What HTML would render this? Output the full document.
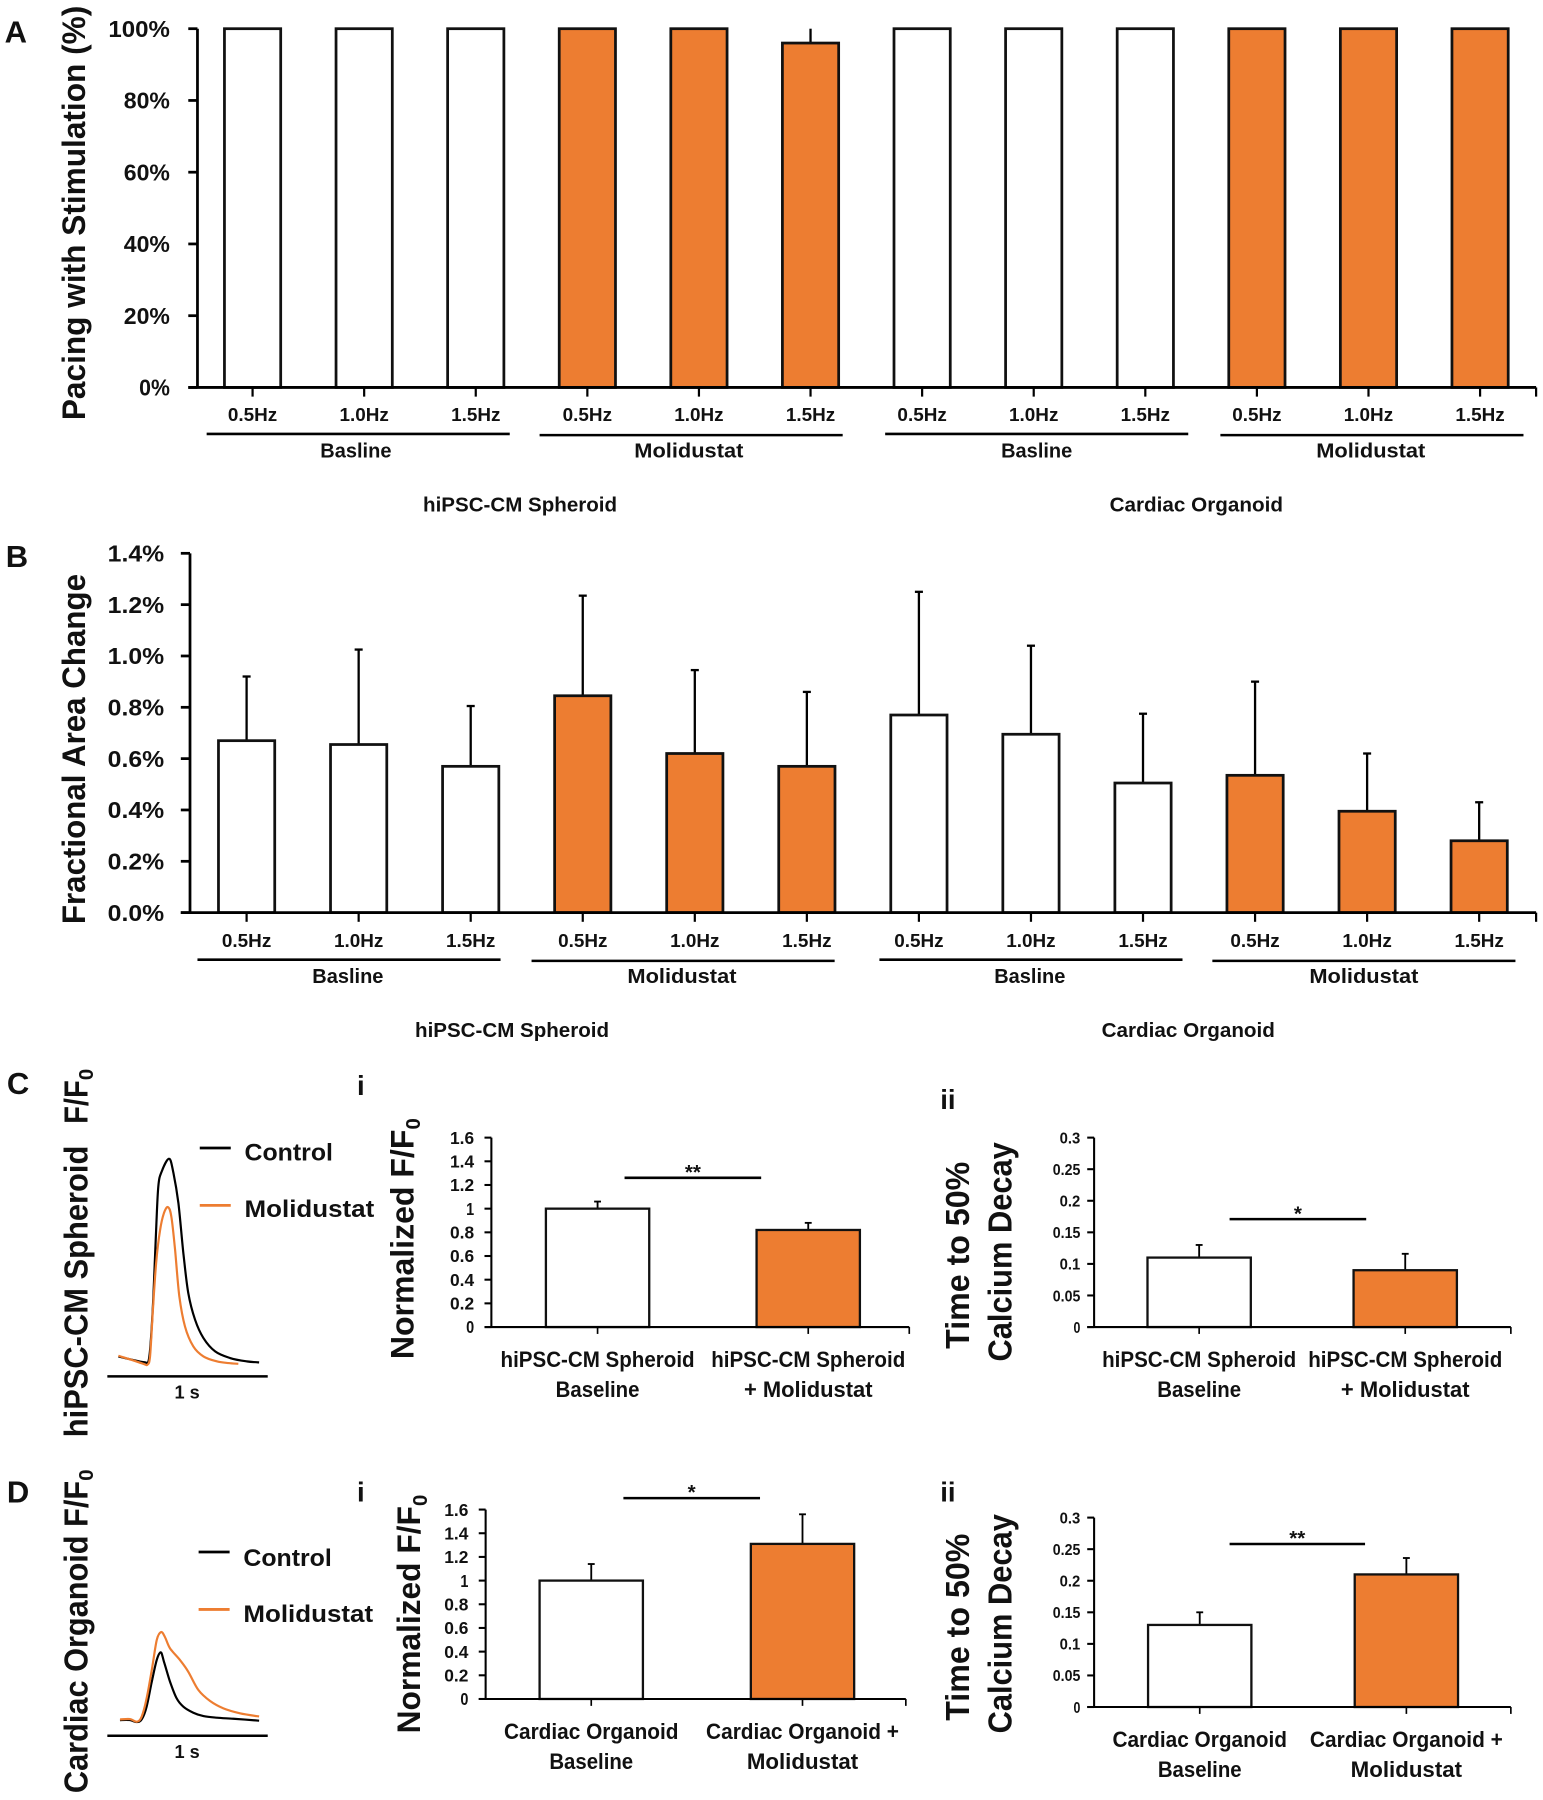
<!DOCTYPE html>
<html lang="en">
<head>
<meta charset="utf-8">
<title>Pacing, fractional area change and calcium handling</title>
<style>
html,body{margin:0;padding:0;background:#fff}
svg{display:block}
text{font-family:"Liberation Sans",sans-serif;font-weight:bold;fill:#111}
</style>
</head>
<body>
<svg id="fig" xmlns="http://www.w3.org/2000/svg" width="1543" height="1800" viewBox="0 0 1344 1568" preserveAspectRatio="none">
  <rect width="1344" height="1568" fill="#fff"/>
  <text x="4" y="37" font-size="27">A</text>
  <text x="5" y="494" font-size="27">B</text>
  <text x="6" y="953" font-size="27">C</text>
  <text x="6" y="1309" font-size="27">D</text>
  <text x="311" y="954" font-size="24">i</text>
  <text x="819" y="966" font-size="24">ii</text>
  <text x="311" y="1308" font-size="24">i</text>
  <text x="819" y="1308" font-size="24">ii</text>

  <text transform="translate(74,366) rotate(-90)" font-size="28" textLength="361" lengthAdjust="spacingAndGlyphs">Pacing with Stimulation (%)</text>
  <text transform="translate(74,805) rotate(-90)" font-size="28" textLength="305" lengthAdjust="spacingAndGlyphs">Fractional Area Change</text>
  <text transform="translate(76,1252) rotate(-90)" font-size="29" textLength="254" lengthAdjust="spacingAndGlyphs">hiPSC-CM Spheroid</text>
  <text transform="translate(76,979) rotate(-90)" font-size="29" textLength="38" lengthAdjust="spacingAndGlyphs">F/F</text>
  <text transform="translate(81,941) rotate(-90)" font-size="18">0</text>
  <text transform="translate(76,1562) rotate(-90)" font-size="29" textLength="272" lengthAdjust="spacingAndGlyphs">Cardiac Organoid F/F</text>
  <text transform="translate(81,1290) rotate(-90)" font-size="18">0</text>
  <text transform="translate(360,1184) rotate(-90)" font-size="28" textLength="200" lengthAdjust="spacingAndGlyphs">Normalized F/F</text>
  <text transform="translate(366,984) rotate(-90)" font-size="18">0</text>
  <text transform="translate(366,1510) rotate(-90)" font-size="28" textLength="198" lengthAdjust="spacingAndGlyphs">Normalized F/F</text>
  <text transform="translate(372,1312) rotate(-90)" font-size="18">0</text>
  <text transform="translate(844,1175) rotate(-90)" font-size="29" textLength="163" lengthAdjust="spacingAndGlyphs">Time to 50%</text>
  <text transform="translate(881,1186) rotate(-90)" font-size="29" textLength="191" lengthAdjust="spacingAndGlyphs">Calcium Decay</text>
  <text transform="translate(844,1499) rotate(-90)" font-size="29" textLength="163" lengthAdjust="spacingAndGlyphs">Time to 50%</text>
  <text transform="translate(881,1510) rotate(-90)" font-size="29" textLength="191" lengthAdjust="spacingAndGlyphs">Calcium Decay</text>

  <g>
    <line x1="174" x2="201" y1="1000" y2="1000" stroke="#000" stroke-width="2.4"/>
    <text x="213" y="1011" font-size="21" textLength="77" lengthAdjust="spacingAndGlyphs">Control</text>
    <line x1="174" x2="201" y1="1050" y2="1050" stroke="#ed7d31" stroke-width="2.4"/>
    <text x="213" y="1060" font-size="21" textLength="113" lengthAdjust="spacingAndGlyphs">Molidustat</text>
  </g>
  <g>
    <line x1="173" x2="200" y1="1352" y2="1352" stroke="#000" stroke-width="2.4"/>
    <text x="212" y="1364" font-size="21" textLength="77" lengthAdjust="spacingAndGlyphs">Control</text>
    <line x1="173" x2="200" y1="1402" y2="1402" stroke="#ed7d31" stroke-width="2.4"/>
    <text x="212" y="1413" font-size="21" textLength="113" lengthAdjust="spacingAndGlyphs">Molidustat</text>
  </g>
  <g id="plots"></g>
</svg>
<script>
// ---- Panel A / B data ----
const freqCategories = ['0.5Hz','1.0Hz','1.5Hz','0.5Hz','1.0Hz','1.5Hz','0.5Hz','1.0Hz','1.5Hz','0.5Hz','1.0Hz','1.5Hz'];
const freqTreatment = ['base','base','base','drug','drug','drug','base','base','base','drug','drug','drug'];
const pacingValues = [100,100,100,100,100,96,100,100,100,100,100,100];
const pacingErrors = [0,0,0,0,0,4,0,0,0,0,0,0];
const pacingTicks = [0,20,40,60,80,100];
const pacingTickLabels = ['0%','20%','40%','60%','80%','100%'];
const areaValues = [0.67,0.655,0.57,0.845,0.62,0.57,0.77,0.695,0.505,0.535,0.395,0.28];
const areaErrors = [0.25,0.37,0.235,0.39,0.325,0.29,0.48,0.345,0.27,0.365,0.225,0.15];
const areaTicks = [0,0.2,0.4,0.6,0.8,1.0,1.2,1.4];
const areaTickLabels = ['0.0%','0.2%','0.4%','0.6%','0.8%','1.0%','1.2%','1.4%'];
const groupLabels = ['Basline','Molidustat','Basline','Molidustat'];
const modelLabels = ['hiPSC-CM Spheroid','Cardiac Organoid'];

// ---- Panel C / D bar data ----
const normTicks = [0,0.2,0.4,0.6,0.8,1,1.2,1.4,1.6];
const normTickLabels = ['0','0.2','0.4','0.6','0.8','1','1.2','1.4','1.6'];
const decayTicks = [0,0.05,0.1,0.15,0.2,0.25,0.3];
const decayTickLabels = ['0','0.05','0.1','0.15','0.2','0.25','0.3'];
const pairTreatment = ['base','drug'];
const spheroidNormValues = [1,0.82];
const spheroidNormErrors = [0.06,0.06];
const spheroidDecayValues = [0.11,0.09];
const spheroidDecayErrors = [0.02,0.026];
const organoidNormValues = [1,1.31];
const organoidNormErrors = [0.14,0.25];
const organoidDecayValues = [0.13,0.21];
const organoidDecayErrors = [0.02,0.026];

// ---- Calcium traces: time in s, signal in arbitrary F/F0 units ----
const spheroidControlT = [.069,.162,.235,.256,.270,.287,.304,.318,.339,.385,.412,.443,.474,.505,.547,.599,.672,.765,.869,.946];
const spheroidControlV = [.174,.142,.122,.131,.29,.697,1.278,1.655,1.786,1.896,1.771,1.51,1.074,.726,.494,.334,.218,.16,.131,.122];
const spheroidDrugT = [.069,.162,.225,.25,.266,.283,.304,.329,.353,.378,.399,.422,.449,.484,.536,.599,.682,.755,.817];
const spheroidDrugV = [.18,.139,.11,.102,.174,.552,.987,1.278,1.423,1.475,1.394,1.103,.697,.436,.261,.174,.131,.116,.11];
const organoidControlT = [.079,.141,.183,.214,.245,.277,.308,.333,.353,.391,.432,.474,.536,.599,.682,.786,.946];
const organoidControlV = [.136,.136,.119,.142,.253,.47,.659,.726,.645,.47,.325,.253,.2,.171,.157,.148,.131];
const organoidDrugT = [.079,.141,.183,.214,.245,.277,.308,.335,.36,.391,.453,.505,.568,.641,.724,.827,.946];
const organoidDrugV = [.142,.145,.122,.166,.325,.572,.833,.903,.857,.761,.659,.557,.398,.302,.238,.195,.168];

const NS = 'http://www.w3.org/2000/svg';
const ORANGE = '#ed7d31';
const root = document.getElementById('plots');

function make(tag, attrs, parent) {
  const el = document.createElementNS(NS, tag);
  for (const k in attrs) el.setAttribute(k, attrs[k]);
  (parent || root).appendChild(el);
  return el;
}
function label(parent, x, y, str, size, width, anchor) {
  const t = make('text', {x: x, y: y + size * 0.36, 'font-size': size, 'text-anchor': anchor || 'middle'}, parent);
  if (width) {
    t.setAttribute('textLength', width);
    t.setAttribute('lengthAdjust', 'spacingAndGlyphs');
  }
  t.textContent = str;
  return t;
}
function newGroup(name) {
  const g = make('g', {});
  
  
  return g;
}

function drawChart(o) {
  const g = newGroup(o.name);
  const y = v => o.bottom - (v / o.ymax) * (o.bottom - o.top);
  const x = i => o.x0 + i * o.step;
  // bars and error bars
  o.values.forEach((v, i) => {
    const err = o.errors[i];
    if (err > 0) {
      const stem = make('line', {x1: x(i), x2: x(i), y1: y(v), y2: y(v + err), stroke: '#000', 'stroke-width': o.errWidth}, g);
      
      
      if (o.cap) {
        const cap = make('line', {x1: x(i) - o.cap, x2: x(i) + o.cap, y1: y(v + err), y2: y(v + err), stroke: '#000', 'stroke-width': o.errWidth}, g);
        
        
      }
    }
    const bar = make('rect', {x: x(i) - o.barW / 2, y: y(v), width: o.barW, height: o.bottom - y(v),
      fill: o.treatment[i] === 'drug' ? ORANGE : '#fff', stroke: '#111', 'stroke-width': o.barStroke}, g);
    
    
  });
  // axes
  const yAxis = make('line', {x1: o.axisX, x2: o.axisX, y1: o.top, y2: o.bottom, stroke: '#000', 'stroke-width': o.axisWidth}, g);
  
  
  const xAxis = make('line', {x1: o.axisX - o.tickLen, x2: o.axisEnd, y1: o.bottom, y2: o.bottom, stroke: '#000', 'stroke-width': o.axisWidth}, g);
  
  
  o.ticks.forEach((t, i) => {
    const tick = make('line', {x1: o.axisX - o.tickLen, x2: o.axisX, y1: y(t), y2: y(t), stroke: '#000', 'stroke-width': o.axisWidth}, g);
    
    
    const str = o.tickLabels[i];
    const lab = label(g, o.labelX, y(t), str, o.tickSize, o.tickCharW ? str.length * o.tickCharW : 0, 'end');
    
    
  });
  o.values.forEach((v, i) => {
    const tick = make('line', {x1: x(i), x2: x(i), y1: o.bottom, y2: o.bottom + o.tickLen, stroke: '#000', 'stroke-width': o.axisWidth * 0.8}, g);
    
    
  });
  const endTick = make('line', {x1: o.axisEnd, x2: o.axisEnd, y1: o.bottom, y2: o.bottom + o.tickLen, stroke: '#000', 'stroke-width': o.axisWidth * 0.8}, g);
  
  
  return {g: g, x: x, y: y};
}

function drawGrouped(o) {
  const c = drawChart(o);
  freqCategories.forEach((s, i) => {
    const lab = label(c.g, c.x(i) + o.catDx, o.catY, s, 16, 43);
    
    
  });
  groupLabels.forEach((s, i) => {
    const line = make('line', {x1: o.groupStart[i], x2: o.groupStart[i] + 264, y1: o.groupLineY + (i % 2), y2: o.groupLineY + (i % 2), stroke: '#000', 'stroke-width': 2.2}, c.g);
    
    
    const lab = label(c.g, o.groupLabelX[i], o.groupLabelY, s, 18, s === 'Basline' ? 62 : 95);
    
    
  });
  modelLabels.forEach((s, i) => {
    const lab = label(c.g, o.modelX[i], o.modelY, s, 18, i === 0 ? 169 : 151);
    
    
  });
}

drawGrouped({name:'chart-pacing', values:pacingValues, errors:pacingErrors, treatment:freqTreatment,
  ticks:pacingTicks, tickLabels:pacingTickLabels, ymax:100, top:25, bottom:337.5, axisX:172, axisEnd:1338,
  x0:220, step:97.2, barW:49, barStroke:2.4, errWidth:2, cap:0, axisWidth:2.4, tickLen:8, labelX:148, tickSize:20, tickCharW:13.4,
  catDx:0, catY:361, groupStart:[180,470,771,1063], groupLineY:378, groupLabelX:[310,600,903,1194], groupLabelY:392,
  modelX:[453,1042], modelY:439});

drawGrouped({name:'chart-area', values:areaValues, errors:areaErrors, treatment:freqTreatment,
  ticks:areaTicks, tickLabels:areaTickLabels, ymax:1.4, top:482, bottom:795, axisX:165.5, axisEnd:1338,
  x0:214.8, step:97.6, barW:49, barStroke:2.4, errWidth:2, cap:3.5, axisWidth:2.4, tickLen:8, labelX:143, tickSize:20, tickCharW:12.3,
  catDx:0, catY:819, groupStart:[172,463,766,1056], groupLineY:836, groupLabelX:[303,594,897,1188], groupLabelY:850,
  modelX:[446,1035], modelY:897});

function drawPair(o) {
  const c = drawChart(Object.assign({treatment:pairTreatment, barW:90, barStroke:2, errWidth:1.6, cap:3, axisWidth:1.8, tickLen:6}, o));
  const sig = make('line', {x1:o.sig[0], x2:o.sig[1], y1:o.sig[2], y2:o.sig[2], stroke:'#000', 'stroke-width':2.2}, c.g);
  
  
  const star = make('text', {x:(o.sig[0] + o.sig[1]) / 2, y:o.sig[2] + 1, 'font-size':18, 'text-anchor':'middle'}, c.g);
  star.textContent = o.stars;
  
  
  o.catLines.forEach((lines, i) => {
    lines.forEach((item, j) => {
      const lab = label(c.g, c.x(i), o.catY + j * 26, item[0], 19, item[1]);
      
      
    });
  });
}

const spheroidCats = [[['hiPSC-CM Spheroid',169],['Baseline',73]],[['hiPSC-CM Spheroid',169],['+ Molidustat',112]]];
const organoidCats = [[['Cardiac Organoid',152],['Baseline',73]],[['Cardiac Organoid +',168],['Molidustat',97]]];

drawPair({name:'chart-spheroid-normalized', values:spheroidNormValues, errors:spheroidNormErrors, ticks:normTicks, tickLabels:normTickLabels,
  ymax:1.6, top:991, bottom:1156, axisX:428, axisEnd:792, x0:520.5, step:183.5, labelX:413, tickSize:15, tickCharW:7,
  sig:[544,663,1026], stars:'**', catLines:spheroidCats, catY:1184});
drawPair({name:'chart-spheroid-decay', values:spheroidDecayValues, errors:spheroidDecayErrors, ticks:decayTicks, tickLabels:decayTickLabels,
  ymax:0.3, top:991, bottom:1156, axisX:953, axisEnd:1316, x0:1044.5, step:179.5, labelX:941, tickSize:14, tickCharW:6,
  sig:[1071,1190,1062], stars:'*', catLines:spheroidCats, catY:1184});
drawPair({name:'chart-organoid-normalized', values:organoidNormValues, errors:organoidNormErrors, ticks:normTicks, tickLabels:normTickLabels,
  ymax:1.6, top:1315, bottom:1480, axisX:423, axisEnd:789, x0:515, step:184, labelX:408, tickSize:15, tickCharW:7,
  sig:[543,662,1305], stars:'*', catLines:organoidCats, catY:1508});
drawPair({name:'chart-organoid-decay', values:organoidDecayValues, errors:organoidDecayErrors, ticks:decayTicks, tickLabels:decayTickLabels,
  ymax:0.3, top:1322, bottom:1487, axisX:953, axisEnd:1316, x0:1045, step:180, labelX:941, tickSize:14, tickCharW:6,
  sig:[1071,1189,1345], stars:'**', catLines:organoidCats, catY:1515});

function smoothPath(T, V, tx, vy) {
  const P = T.map((t, i) => [tx(t), vy(V[i])]);
  let d = 'M' + P[0][0].toFixed(1) + ' ' + P[0][1].toFixed(1);
  for (let i = 0; i < P.length - 1; i++) {
    const a = P[Math.max(i - 1, 0)], b = P[i], c = P[i + 1], e = P[Math.min(i + 2, P.length - 1)];
    const c1x = b[0] + (c[0] - a[0]) / 6, c1y = b[1] + (c[1] - a[1]) / 6;
    const c2x = c[0] - (e[0] - b[0]) / 6, c2y = c[1] - (e[1] - b[1]) / 6;
    d += 'C' + c1x.toFixed(1) + ' ' + c1y.toFixed(1) + ' ' + c2x.toFixed(1) + ' ' + c2y.toFixed(1) + ' ' + c[0].toFixed(1) + ' ' + c[1].toFixed(1);
  }
  return d;
}
function drawTraces(name, baseY, ctrlT, ctrlV, drugT, drugV) {
  const g = newGroup(name);
  const tx = t => 93.5 + t * 139.7;
  const vy = v => baseY - v * 100;
  const ctrl = make('path', {d: smoothPath(ctrlT, ctrlV, tx, vy), fill:'none', stroke:'#000', 'stroke-width':1.9, 'stroke-linejoin':'round'}, g);
  
  
  const drug = make('path', {d: smoothPath(drugT, drugV, tx, vy), fill:'none', stroke:ORANGE, 'stroke-width':1.9, 'stroke-linejoin':'round'}, g);
  
  
  const bar = make('line', {x1:tx(0), x2:tx(1), y1:baseY, y2:baseY, stroke:'#000', 'stroke-width':2.2}, g);
  
  
  const lab = label(g, 163, baseY + 13.5, '1 s', 16, 22);
  
  
}
drawTraces('traces-spheroid', 1199, spheroidControlT, spheroidControlV, spheroidDrugT, spheroidDrugV);
drawTraces('traces-organoid', 1512, organoidControlT, organoidControlV, organoidDrugT, organoidDrugV);
</script>
</body>
</html>
